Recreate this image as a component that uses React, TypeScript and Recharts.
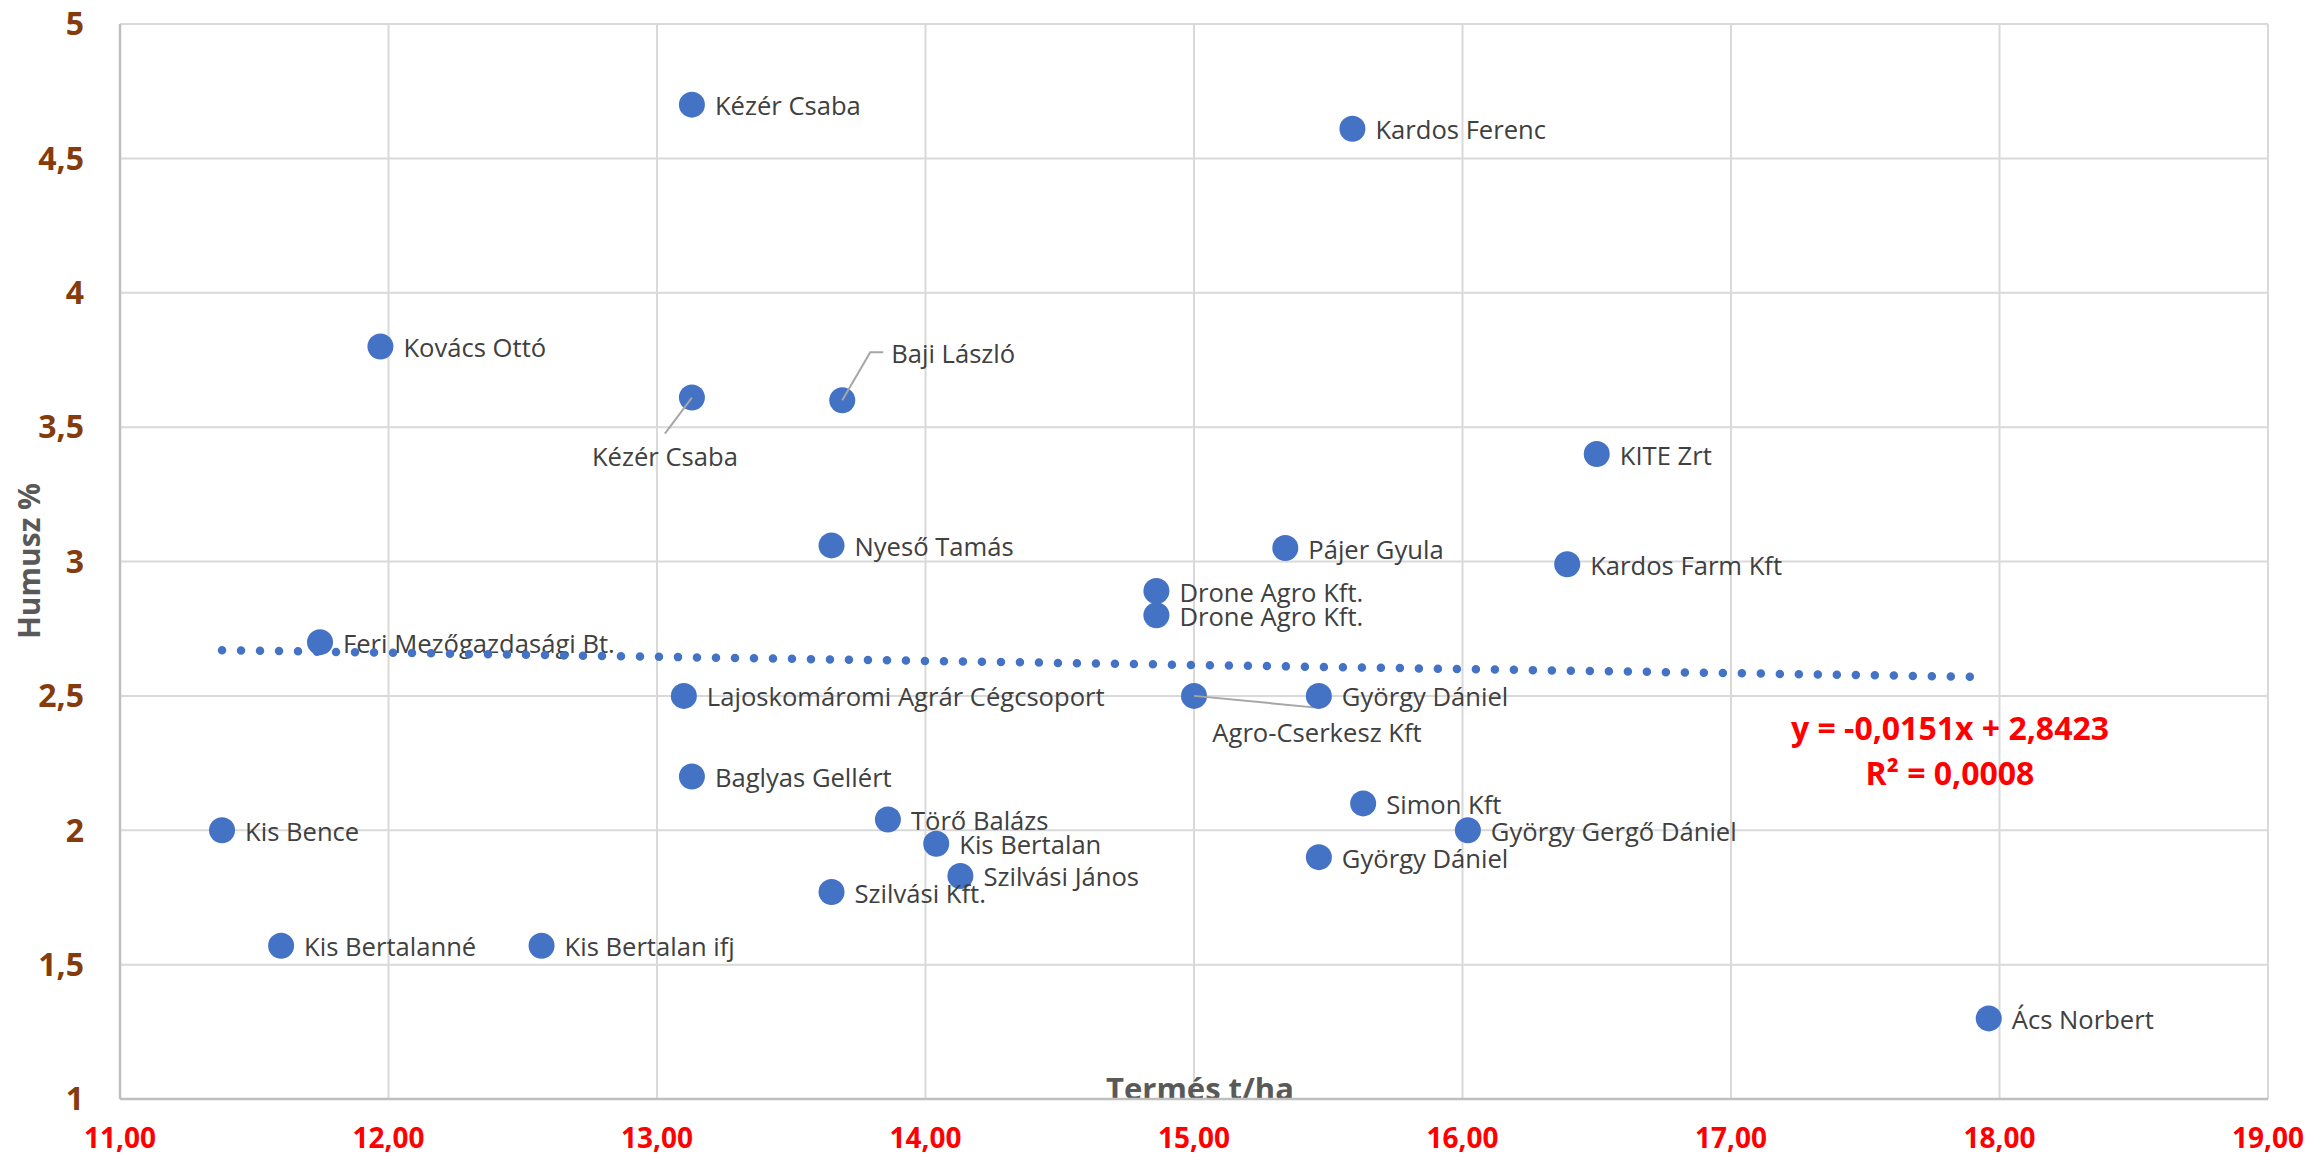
import React from 'react';
import { ScatterChart, Scatter, XAxis, YAxis, CartesianGrid, Customized } from 'recharts';

const names = [
    'Kézér Csaba', 'Kardos Ferenc', 'Kovács Ottó', 'Kézér Csaba', 'Baji László',
    'KITE Zrt', 'Nyeső Tamás', 'Pájer Gyula', 'Kardos Farm Kft', 'Drone Agro Kft.',
    'Drone Agro Kft.', 'Feri Mezőgazdasági Bt.', 'Lajoskomáromi Agrár Cégcsoport', 'Agro-Cserkesz Kft', 'György Dániel',
    'Baglyas Gellért', 'Simon Kft', 'Törő Balázs', 'Kis Bence', 'György Gergő Dániel',
    'Kis Bertalan', 'György Dániel', 'Szilvási János', 'Szilvási Kft.', 'Kis Bertalanné',
    'Kis Bertalan ifj', 'Ács Norbert',
];
// Termés t/ha
const termes = [
    13.13, 15.59, 11.97, 13.13, 13.69,
    16.5, 13.65, 15.34, 16.39, 14.86,
    14.86, 11.745, 13.1, 15.0, 15.465,
    13.13, 15.63, 13.86, 11.38, 16.02,
    14.04, 15.465, 14.13, 13.65, 11.6,
    12.57, 17.96,
];
// Humusz %
const humusz = [
    4.7, 4.61, 3.8, 3.61, 3.6,
    3.4, 3.06, 3.05, 2.99, 2.89,
    2.8, 2.7, 2.5, 2.5, 2.5,
    2.2, 2.1, 2.04, 2.0, 2.0,
    1.95, 1.9, 1.83, 1.77, 1.57,
    1.57, 1.3,
];

const xTicks = [11, 12, 13, 14, 15, 16, 17, 18, 19];
const yTicks = [1, 1.5, 2, 2.5, 3, 3.5, 4, 4.5, 5];

// lineáris trendvonal két végpontja
const trendTermes = [11.38, 17.96];
const trendHumusz = [2.67, 2.57];
const equationLines = ['y = -0,0151x + 2,8423', 'R² = 0,0008'];

const points = names.map((name, i) => ({ name, x: termes[i], y: humusz[i], idx: i }));
const trend = trendTermes.map((x, i) => ({ x, y: trendHumusz[i] }));

const FONT = "'Open Sans', 'Noto Sans', sans-serif";
const BLUE = '#4472C4';

// kézzel elhúzott címkék vezetővonallal (pixel eltolás a ponthoz képest)
const movedLabels: Record<number, { dx: number; dy: number; anchor: 'start' | 'middle'; leader: number[][] }> = {
    3: { dx: -27, dy: 59, anchor: 'middle', leader: [[0, 0], [-27, 36]] },
    4: { dx: 49, dy: -47, anchor: 'start', leader: [[0, 0], [28, -48], [41, -48]] },
    13: { dx: 123, dy: 37, anchor: 'middle', leader: [[0, 0], [125, 12]] },
};

const PointWithLabel = (props: any) => {
    const { cx, cy, payload } = props;
    const moved = movedLabels[payload.idx];
    return (
        <g>
            <circle cx={cx} cy={cy} r={13} fill={BLUE} />
            {moved && (
                <polyline
                    points={moved.leader.map(([a, b]) => `${cx + a},${cy + b}`).join(' ')}
                    fill="none"
                    stroke="#A6A6A6"
                    strokeWidth={2}
                />
            )}
            <text
                x={cx + (moved ? moved.dx : 23)}
                y={cy + (moved ? moved.dy : 1)}
                textAnchor={moved ? moved.anchor : 'start'}
                dominantBaseline="central"
                fontSize={25.6}
                fill="#404040"
                fontFamily={FONT}
            >
                {payload.name}
            </text>
        </g>
    );
};

const Annotations = () => (
    <g fontFamily={FONT} fontWeight="bold">
        <text x={28} y={561} transform="rotate(-90 28 561)" textAnchor="middle" dominantBaseline="central" fontSize={30} fill="#595959">
            Humusz %
        </text>
        <text x={1200} y={1100} textAnchor="middle" fontSize={31} fill="#595959">
            Termés t/ha
        </text>
        {equationLines.map((line, i) => (
            <text key={i} x={1950} y={727 + i * 45} textAnchor="middle" dominantBaseline="central" fontSize={32} fill="#FF0000">
                {line}
            </text>
        ))}
    </g>
);

const App = () => {
    return (
        <div style={{ position: 'absolute', left: 0, top: 0, width: 2315, height: 1156, background: '#fff', fontFamily: FONT }}>
            <ScatterChart width={2315} height={1156} margin={{ top: 24, right: 47, bottom: 0, left: 0 }}>
                <CartesianGrid stroke="#D9D9D9" strokeWidth={2} />
                <XAxis
                    type="number"
                    dataKey="x"
                    domain={[11, 19]}
                    ticks={xTicks}
                    allowDataOverflow
                    height={57}
                    tickSize={0}
                    tickMargin={29}
                    tickLine={false}
                    axisLine={{ stroke: '#BFBFBF', strokeWidth: 2.5 }}
                    tickFormatter={(v: number) => v.toFixed(2).replace('.', ',')}
                    tick={{ fill: '#FF0000', fontSize: 28, fontWeight: 'bold', fontFamily: FONT }}
                />
                <YAxis
                    type="number"
                    dataKey="y"
                    domain={[1, 5]}
                    ticks={yTicks}
                    allowDataOverflow
                    width={120}
                    tickSize={0}
                    tickMargin={36}
                    tickLine={false}
                    axisLine={{ stroke: '#BFBFBF', strokeWidth: 2.5 }}
                    tickFormatter={(v: number) => String(v).replace('.', ',')}
                    tick={{ fill: '#843C0C', fontSize: 32, fontWeight: 'bold', fontFamily: FONT }}
                />
                <Scatter data={points} shape={PointWithLabel} isAnimationActive={false} />
                <Scatter
                    data={trend}
                    line={{ stroke: BLUE, strokeWidth: 8.5, strokeDasharray: '0 19', strokeLinecap: 'round' }}
                    shape={() => <g />}
                    isAnimationActive={false}
                />
                <Customized component={Annotations} />
            </ScatterChart>
        </div>
    );
};

export default App;
